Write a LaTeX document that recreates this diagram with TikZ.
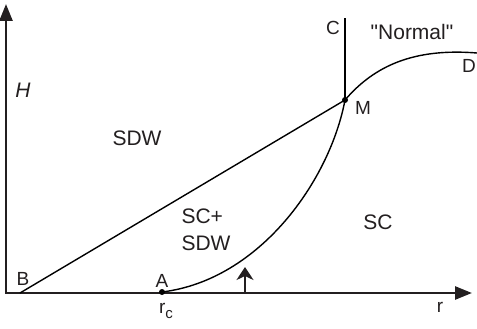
\documentclass[tikz,border=0pt]{standalone}
\usepackage{fontspec}
\setmainfont{Liberation Sans}[Ligatures=TeXOff]
\usetikzlibrary{arrows.meta}
\definecolor{inkgray}{HTML}{231F20}

\begin{document}
\begin{tikzpicture}[x=1pt, y=-1pt,
    axis/.style={line width=2.6pt, color=inkgray, -{Triangle[length=17pt, width=13pt]}},
    curve/.style={line width=1.4pt, color=black},
    region/.style={font=\fontsize{21}{27}\selectfont, text=inkgray, inner sep=0pt},
    pointlbl/.style={font=\fontsize{19}{22}\selectfont, text=inkgray, inner sep=0pt},
    dot/.style={circle, fill=black, inner sep=0pt, minimum size=6pt}
]
\useasboundingbox (0,0) rectangle (477,329);

% axes
\coordinate (O) at (6,293);
\coordinate (Htip) at (6,4);
\coordinate (Rtip) at (472,293);
\draw[axis, line cap=rect] (O) -- (Htip);
\draw[axis, line cap=rect] (O) -- (Rtip);

% phase boundaries
\coordinate (B) at (20,293);
\coordinate (C) at (345,18);
\coordinate (D) at (477,53);
\node[dot] (A) at (162,292) {};
\node[dot] (M) at (345,100) {};
\draw[curve] (B) -- (M.center);
\draw[curve] (M.center) -- (C);
\draw[curve] (A.center) .. controls (260,280) and (330,180) .. (M.center)
    .. controls (375,65) and (415,48) .. (D);

% field direction
\coordinate (up0) at (245,293);
\coordinate (up1) at (245,267);
\draw[line width=2pt, color=inkgray, -{Stealth[length=13pt, width=17pt, inset=4pt]}] (up0) -- (up1);

% labels
\node[region] (hlabel) at (23,90) {\itshape H};
\node[region] (sdw) at (137,138) {SDW};
\node[region, align=left] (mixed) at (206,230) {SC+\\SDW};
\node[region] (sc) at (378,222) {SC};
\node[region] (normal) at (412,32) {"Normal"};
\node[pointlbl] (blabel) at (23,279) {B};
\node[pointlbl] (alabel) at (162,281) {A};
\node[pointlbl] (clabel) at (333,28) {C};
\node[pointlbl] (mlabel) at (363,108) {M};
\node[pointlbl] (dlabel) at (469,66) {D};
\node[pointlbl] (rclabel) at (166,311) {r\raisebox{-0.45ex}{\fontsize{15}{15}\selectfont c}};
\node[pointlbl] (rlabel) at (440,307) {r};
\end{tikzpicture}
\end{document}
